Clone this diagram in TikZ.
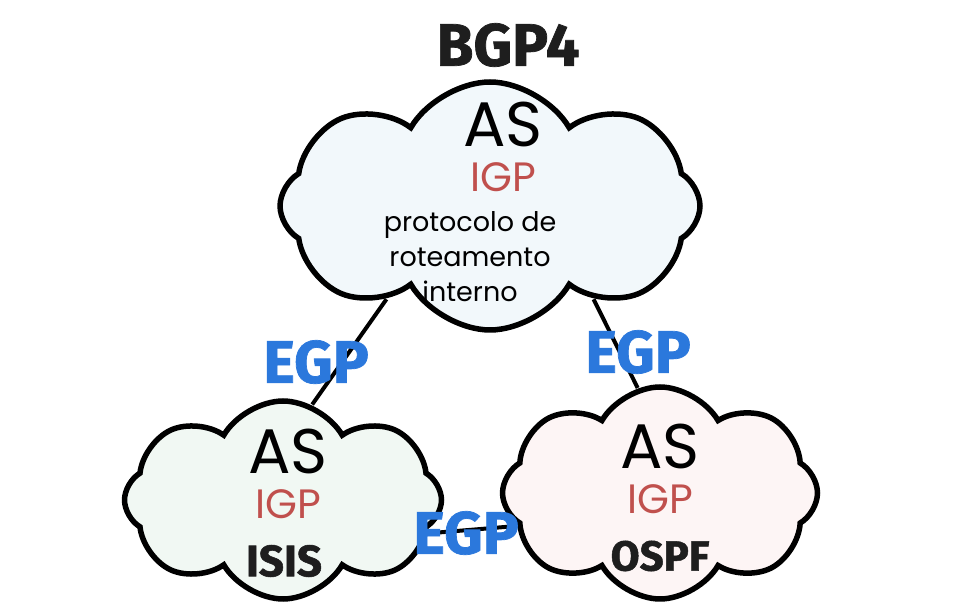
\documentclass[tikz,border=0pt]{standalone}
\usepackage{fontspec}
\setmainfont{Poppins}
\newfontfamily\heavyfont{Fira Sans}[UprightFont=* Bold, FakeBold=1.2]
\usetikzlibrary{shapes.symbols, positioning}
\definecolor{cloudblue}{HTML}{F2F8FB}
\definecolor{cloudgreen}{HTML}{F1F8F3}
\definecolor{cloudpink}{HTML}{FDF5F5}
\definecolor{igpred}{HTML}{C0504D}
\definecolor{egpblue}{HTML}{2B78DC}
\definecolor{inkblack}{HTML}{1E1E1E}
\tikzstyle{ascloud} = [
  cloud,
  cloud puffs=8,
  cloud puff arc=120,
  cloud ignores aspect,
  draw=black,
  line width=5.5pt
]
\tikzstyle{aslabel} = [font=\fontsize{63}{63}\selectfont, inner sep=0pt]
\tikzstyle{igplabel} = [font=\fontsize{41}{41}\selectfont, text=igpred, inner sep=0pt]
\tikzstyle{handlabel} = [font=\fontsize{27}{35}\selectfont, align=center, inner sep=0pt]
\tikzstyle{namelabel} = [font=\heavyfont\fontsize{44}{44}\selectfont, text=inkblack, inner sep=0pt]
\tikzstyle{egplabel} = [font=\heavyfont\fontsize{60}{60}\selectfont, text=egpblue, inner sep=0pt]
\tikzstyle{link} = [line width=4pt]
\pgfdeclarelayer{background}
\pgfsetlayers{background,main}

\begin{document}
\begin{tikzpicture}[x=1pt, y=1pt]
    \useasboundingbox (0,0) rectangle (968,610);
    \node (top-cloud) [ascloud, fill=cloudblue, minimum width=420pt, minimum height=248pt] at (490,404) {};
    \node (isis-cloud) [ascloud, fill=cloudgreen, minimum width=317pt, minimum height=198pt] at (283,110) {};
    \node (ospf-cloud) [ascloud, fill=cloudpink, minimum width=315pt, minimum height=212pt] at (660,117) {};

    \node (bgp) [namelabel, font=\heavyfont\fontsize{60}{60}\selectfont] at (508,565) {BGP4};
    \node (top-as) [aslabel] at (503,486) {AS};
    \node (top-igp) [igplabel, below=16pt of top-as] {IGP};
    \node (top-text) [handlabel] at (470,353) {protocolo de\\roteamento\\interno};

    \node (isis-as) [aslabel] at (288,159) {AS};
    \node (isis-igp) [igplabel, below=16pt of isis-as] {IGP};
    \node (isis) [namelabel] at (284,49) {ISIS};

    \node (ospf-as) [aslabel] at (660,164) {AS};
    \node (ospf-igp) [igplabel, below=16pt of ospf-as] {IGP};
    \node (ospf) [namelabel, font=\heavyfont\fontsize{42}{42}\selectfont] at (660,54) {OSPF};

    \begin{pgfonlayer}{background}
      \draw [link] (top-cloud.222) -- (isis-cloud.73);
      \draw [link] (top-cloud.318) -- (ospf-cloud.102);
      \draw [link] (isis-cloud.347) -- (ospf-cloud.193);
    \end{pgfonlayer}

    \node (egp-left) [egplabel] at (316,248) {EGP};
    \node (egp-right) [egplabel] at (638,258) {EGP};
    \node (egp-bottom) [egplabel] at (466,77) {EGP};
  \end{tikzpicture}
\end{document}
